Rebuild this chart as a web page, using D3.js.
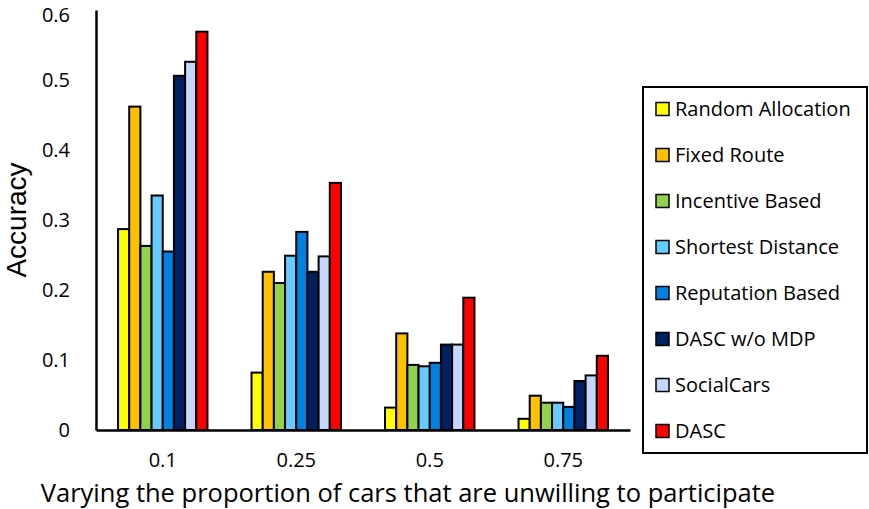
<html>
<head>
  <script src="https://d3js.org/d3.v7.min.js"></script>
  <style>
    body { margin: 0; background: #fff; }
    text { font-family: "Open Sans", sans-serif; fill: #000; }
  </style>
</head>
<body>
  <div id="chart"></div>
  <script>

    // Categories on the x-axis
    var categories = ["0.1", "0.25", "0.5", "0.75"];

    // Series names and colours
    var series = ["Random Allocation", "Fixed Route", "Incentive Based", "Shortest Distance",
                  "Reputation Based", "DASC w/o MDP", "SocialCars", "DASC"];
    var colors = ["#FFFF00", "#FFC000", "#92D050", "#66CCFF",
                  "#0080E0", "#002060", "#C5D6FF", "#FF0000"];

    // Values per series (one per category)
    var randomAllocation = [0.287, 0.082, 0.032, 0.016];
    var fixedRoute       = [0.462, 0.226, 0.138, 0.049];
    var incentiveBased   = [0.263, 0.210, 0.093, 0.039];
    var shortestDistance = [0.335, 0.249, 0.091, 0.039];
    var reputationBased  = [0.255, 0.283, 0.096, 0.033];
    var dascNoMdp        = [0.506, 0.226, 0.122, 0.070];
    var socialCars       = [0.526, 0.248, 0.122, 0.078];
    var dasc             = [0.569, 0.353, 0.189, 0.106];

    var values = [randomAllocation, fixedRoute, incentiveBased, shortestDistance,
                  reputationBased, dascNoMdp, socialCars, dasc];

    var yTicks = [0, 0.1, 0.2, 0.3, 0.4, 0.5, 0.6];

    var width = 869, height = 509;
    var margin = {top: 10, right: 239, bottom: 79, left: 96};
    var innerW = width - margin.left - margin.right;
    var innerH = height - margin.top - margin.bottom;

    var svg = d3.select("#chart")
      .append("svg")
        .attr("width", width)
        .attr("height", height);

    var g = svg.append("g")
        .attr("transform", `translate(${margin.left},${margin.top})`);

    // Scales
    var x0 = d3.scaleBand()
      .domain(categories)
      .range([0, innerW])
      .paddingInner(0.33)
      .paddingOuter(0.165);

    var x1 = d3.scaleBand()
      .domain(series)
      .range([0, x0.bandwidth()]);

    var y = d3.scaleLinear()
      .domain([0, 0.6])
      .range([innerH, 0]);

    // Flatten data for drawing
    var bars = [];
    categories.forEach(function(c, ci) {
      series.forEach(function(s, si) {
        bars.push({cat: c, name: s, value: values[si][ci], color: colors[si]});
      });
    });

    g.selectAll("rect.bar")
      .data(bars)
      .join("rect")
        .attr("class", "bar")
        .attr("x", d => x0(d.cat) + x1(d.name))
        .attr("y", d => y(d.value))
        .attr("width", x1.bandwidth())
        .attr("height", d => y(0) - y(d.value))
        .style("fill", d => d.color)
        .style("stroke", "#000")
        .style("stroke-width", 2);

    // Y axis
    var yAxis = g.append("g")
      .call(d3.axisLeft(y).tickValues(yTicks).tickSize(0).tickPadding(26)
        .tickFormat(d => d === 0 ? "0" : d3.format(".1f")(d)));
    yAxis.select(".domain").attr("stroke", "#000").attr("stroke-width", 2.5);
    yAxis.selectAll("text").style("font-size", "20px");
    // keep the top label inside the picture
    yAxis.selectAll(".tick").filter(d => d === 0.6).select("text").attr("dy", "0.55em");

    // X axis
    var xAxis = g.append("g")
      .attr("transform", `translate(0,${innerH})`)
      .call(d3.axisBottom(x0).tickSize(0).tickPadding(23));
    xAxis.select(".domain").attr("stroke", "#000").attr("stroke-width", 2.5);
    xAxis.selectAll("text").style("font-size", "20px");

    // Axis titles
    svg.append("text")
      .attr("transform", `translate(26,${margin.top + innerH / 2}) rotate(-90)`)
      .attr("text-anchor", "middle")
      .style("font-family", "'Liberation Sans', Arial, sans-serif")
      .style("font-size", "28px")
      .text("Accuracy");

    svg.append("text")
      .attr("x", 408)
      .attr("y", 502)
      .attr("text-anchor", "middle")
      .style("font-size", "25.5px")
      .text("Varying the proportion of cars that are unwilling to participate");

    // Legend
    var legend = svg.append("g").attr("transform", "translate(643,87)");
    legend.append("rect")
      .attr("width", 224)
      .attr("height", 366)
      .style("fill", "#fff")
      .style("stroke", "#000")
      .style("stroke-width", 2);

    var items = legend.selectAll("g.item")
      .data(series)
      .join("g")
        .attr("class", "item")
        .attr("transform", (d, i) => `translate(13,${22 + i * 46})`);

    items.append("rect")
      .attr("x", 0)
      .attr("y", -6.5)
      .attr("width", 13)
      .attr("height", 13)
      .style("fill", (d, i) => colors[i])
      .style("stroke", "#000")
      .style("stroke-width", 1.5);

    items.append("text")
      .attr("x", 19)
      .attr("dy", "0.35em")
      .style("font-size", "20px")
      .text(d => d);

  </script>
</body>
</html>
